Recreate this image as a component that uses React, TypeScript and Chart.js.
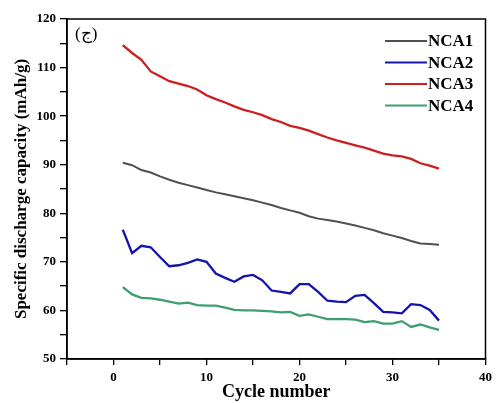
import React, { useEffect, useRef } from 'react';
import { Chart, registerables } from 'chart.js';

Chart.register(...registerables);

const cycles = [1, 2, 3, 4, 5, 6, 7, 8, 9, 10, 11, 12, 13, 14, 15, 16, 17, 18, 19, 20, 21, 22, 23, 24, 25, 26, 27, 28, 29, 30, 31, 32, 33, 34, 35];

const nca1 = [90.4, 89.9, 88.9, 88.4, 87.6, 86.9, 86.3, 85.8, 85.3, 84.8, 84.3, 83.9, 83.5, 83.1, 82.7, 82.2, 81.7, 81.1, 80.6, 80.1, 79.4, 78.9, 78.6, 78.3, 77.9, 77.5, 77.0, 76.5, 75.9, 75.4, 74.9, 74.3, 73.8, 73.7, 73.5];
const nca2 = [76.6, 71.8, 73.3, 73.0, 71.0, 69.1, 69.3, 69.8, 70.5, 70.0, 67.6, 66.7, 65.9, 67.0, 67.3, 66.2, 64.1, 63.8, 63.5, 65.4, 65.4, 63.8, 62.0, 61.8, 61.7, 63.0, 63.2, 61.5, 59.7, 59.6, 59.4, 61.3, 61.1, 60.1, 57.9];
const nca3 = [114.6, 113.0, 111.6, 109.2, 108.2, 107.2, 106.7, 106.2, 105.5, 104.3, 103.5, 102.8, 102.0, 101.3, 100.8, 100.2, 99.4, 98.8, 98.0, 97.6, 97.0, 96.3, 95.6, 95.0, 94.5, 94.0, 93.5, 92.9, 92.3, 91.9, 91.7, 91.2, 90.3, 89.8, 89.2];
const nca4 = [64.8, 63.3, 62.6, 62.5, 62.2, 61.8, 61.4, 61.6, 61.1, 61.0, 61.0, 60.6, 60.1, 60.0, 60.0, 59.9, 59.8, 59.6, 59.7, 58.9, 59.2, 58.7, 58.2, 58.2, 58.2, 58.1, 57.6, 57.8, 57.3, 57.3, 57.8, 56.6, 57.1, 56.5, 56.0];

const seriesNames = ['NCA1', 'NCA2', 'NCA3', 'NCA4'];
const seriesValues = [nca1, nca2, nca3, nca4];
const seriesColors = ['#505050', '#1414aa', '#cc1f1f', '#3d9f70'];

const xTickLabels = [0, 10, 20, 30, 40];
const yTickLabels = [50, 60, 70, 80, 90, 100, 110, 120];

const panelLabel = '(ج)';
const xTitle = 'Cycle number';
const yTitle = 'Specific discharge capacity (mAh/g)';

const SERIF = '"Liberation Serif", "Times New Roman", "DejaVu Serif", serif';

const framePlugin = {
  id: 'frameAndLegend',
  afterDraw(chart: any) {
    const { ctx, chartArea } = chart;
    const { left, top, right, bottom } = chartArea;
    ctx.save();
    ctx.strokeStyle = '#000';
    ctx.lineWidth = 1.5;
    ctx.strokeRect(left, top, right - left, bottom - top);

    // panel label
    ctx.fillStyle = '#000';
    ctx.font = `17px ${SERIF}`;
    ctx.textAlign = 'left';
    ctx.textBaseline = 'middle';
    ctx.fillText(panelLabel, left + 8, top + 16);

    // legend
    const lineX0 = 385;
    const lineX1 = 427;
    const rowY0 = 41;
    const rowStep = 21.5;
    ctx.font = `bold 17px ${SERIF}`;
    chart.data.datasets.forEach((ds: any, i: number) => {
      const y = rowY0 + i * rowStep;
      ctx.strokeStyle = ds.borderColor;
      ctx.lineWidth = 2.2;
      ctx.beginPath();
      ctx.moveTo(lineX0, y);
      ctx.lineTo(lineX1, y);
      ctx.stroke();
      ctx.fillStyle = '#000';
      ctx.fillText(ds.label, lineX1 + 1, y + 1);
    });
    ctx.restore();
  },
};

export default function App() {
  const canvasRef = useRef<HTMLCanvasElement | null>(null);

  useEffect(() => {
    const canvas = canvasRef.current;
    if (!canvas) return;
    const chart = new Chart(canvas, {
      type: 'line',
      data: {
        datasets: seriesNames.map((name, i) => ({
          label: name,
          data: cycles.map((c, j) => ({ x: c, y: seriesValues[i][j] })),
          borderColor: seriesColors[i],
          backgroundColor: seriesColors[i],
          borderWidth: i === 0 ? 2 : 2.3,
          pointRadius: 0,
          tension: 0,
          fill: false,
        })),
      },
      options: {
        responsive: false,
        animation: false,
        devicePixelRatio: 1,
        layout: { padding: { top: 19, right: 7, left: 0, bottom: 0 } },
        plugins: {
          legend: { display: false },
          tooltip: { enabled: false },
          title: { display: false },
        },
        scales: {
          x: {
            type: 'linear',
            min: -5,
            max: 40,
            afterFit: (s: any) => {
              s.height = 44;
            },
            ticks: {
              stepSize: 5,
              autoSkip: false,
              maxRotation: 0,
              padding: 5,
              color: '#000',
              font: { family: SERIF, size: 13, weight: 'bold' },
              callback: (v: any) => (xTickLabels.includes(Number(v)) ? String(v) : ''),
            },
            grid: {
              drawOnChartArea: false,
              drawTicks: true,
              tickLength: 6,
              color: '#000',
              lineWidth: 1.3,
            },
            border: { display: true, color: '#000', width: 1.5 },
            title: {
              display: true,
              text: xTitle,
              color: '#000',
              font: { family: SERIF, size: 18, weight: 'bold' },
              padding: { top: 0, bottom: 0 },
            },
          },
          y: {
            type: 'linear',
            min: 50,
            max: 120,
            afterFit: (s: any) => {
              s.width = 67;
            },
            ticks: {
              stepSize: 5,
              autoSkip: false,
              padding: 4,
              color: '#000',
              font: { family: SERIF, size: 13, weight: 'bold' },
              callback: (v: any) => (yTickLabels.includes(Number(v)) ? String(v) : ''),
            },
            grid: {
              drawOnChartArea: false,
              drawTicks: true,
              tickLength: 7,
              color: '#000',
              lineWidth: 1.3,
            },
            border: { display: true, color: '#000', width: 1.5 },
            title: {
              display: true,
              text: yTitle,
              color: '#000',
              font: { family: SERIF, size: 17, weight: 'bold' },
              padding: { top: 11, bottom: 0 },
            },
          },
        },
      },
      plugins: [framePlugin],
    } as any);
    return () => chart.destroy();
  }, []);

  return (
    <div style={{ position: 'fixed', left: 0, top: 0, width: 497, height: 403, background: '#fff' }}>
      <canvas ref={canvasRef} width={497} height={403} style={{ display: 'block', width: 497, height: 403 }} />
    </div>
  );
}
